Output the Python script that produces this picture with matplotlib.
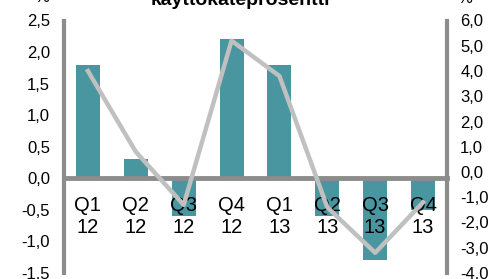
import matplotlib
matplotlib.use("Agg")
from matplotlib import pyplot as plt
from matplotlib.ticker import FuncFormatter

plt.rcParams['font.family'] = ['Liberation Sans', 'DejaVu Sans']

# quarters
quarters = ["Q1\n12", "Q2\n12", "Q3\n12", "Q4\n12", "Q1\n13", "Q2\n13", "Q3\n13", "Q4\n13"]
# bars, left axis (%)
bar_values = [1.8, 0.3, -0.6, 2.2, 1.8, -0.6, -1.3, -0.5]
# line, right axis (käyttökateprosentti)
line_values = [4.0, 0.8, -1.3, 5.2, 3.8, -1.4, -3.2, -1.2]

teal = "#4a96a0"
light_gray = "#c0c0c0"
axis_gray = "#8c8c8c"

fig = plt.figure(figsize=(4.91, 2.79), dpi=100)
ax = fig.add_axes([64 / 491, 6 / 279, 383 / 491, 252.5 / 279])

x = range(len(quarters))
ax.bar(x, bar_values, width=0.5, color=teal, zorder=1)
ax.set_xlim(-0.5, len(quarters) - 0.5)
ax.set_ylim(-1.5, 2.5)
ax.set_yticks([-1.5, -1.0, -0.5, 0.0, 0.5, 1.0, 1.5, 2.0, 2.5])

comma = FuncFormatter(lambda v, p: f"{v:.1f}".replace(".", ","))
ax.yaxis.set_major_formatter(comma)

ax.set_xticks(list(x))
ax.set_xticklabels(quarters, linespacing=1.12)

for side in ["top", "right"]:
    ax.spines[side].set_visible(False)
ax.spines["left"].set_color(axis_gray)
ax.spines["left"].set_linewidth(3)
ax.spines["bottom"].set_position(("data", 0))
ax.spines["bottom"].set_color(axis_gray)
ax.spines["bottom"].set_linewidth(3.5)
ax.tick_params(axis="y", length=0, pad=10, labelsize=12)
ax.tick_params(axis="x", length=0, pad=13, labelsize=14.5)

ax2 = ax.twinx()
ax2.plot(x, line_values, color=light_gray, lw=3.2)
ax2.set_ylim(-4, 6)
ax2.set_yticks(range(-4, 7))
ax2.yaxis.set_major_formatter(comma)
for side in ["top", "left", "bottom"]:
    ax2.spines[side].set_visible(False)
ax2.spines["right"].set_color(axis_gray)
ax2.spines["right"].set_linewidth(3)
ax2.tick_params(axis="y", length=0, pad=9.5, labelsize=12)

fig.text(0.49, 1 - 5 / 279, "käyttökateprosentti", ha="center", va="baseline",
         fontsize=14, fontweight="bold")
fig.text(42 / 491, 1 - 2 / 279, "%", ha="center", va="baseline", fontsize=12)
fig.text(465 / 491, 1 - 3 / 279, "%", ha="center", va="baseline", fontsize=12)

plt.savefig("out.png", dpi=100)
